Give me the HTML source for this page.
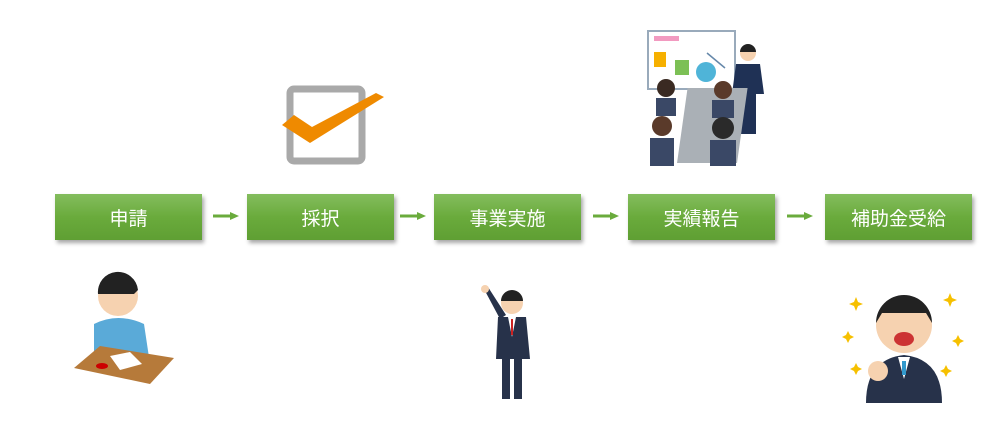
<!DOCTYPE html>
<html><head><meta charset="utf-8"><style>
body{margin:0;width:1000px;height:441px;background:#fff;position:relative;overflow:hidden;font-family:"Liberation Sans","Noto Sans CJK JP",sans-serif}
.b{position:absolute;top:194px;height:46px;background:linear-gradient(#84bd5e,#6aab3c 50%,#5f9f33);color:#fff;font-size:19px;display:flex;align-items:center;justify-content:center;box-shadow:2px 3px 4px rgba(0,0,0,.35)}
.a{position:absolute;top:212px;height:8px;width:26px}
svg{position:absolute}
</style></head><body>
<div class="b" style="left:55px;width:147px">申請</div>
<div class="b" style="left:247px;width:147px">採択</div>
<div class="b" style="left:434px;width:147px">事業実施</div>
<div class="b" style="left:628px;width:147px">実績報告</div>
<div class="b" style="left:825px;width:147px">補助金受給</div>
<svg class="a" style="left:213px" viewBox="0 0 26 8"><path d="M0 4H18" stroke="#6aab3c" stroke-width="3"/><path d="M17 0L26 4L17 8Z" fill="#6aab3c"/></svg>
<svg class="a" style="left:400px" viewBox="0 0 26 8"><path d="M0 4H18" stroke="#6aab3c" stroke-width="3"/><path d="M17 0L26 4L17 8Z" fill="#6aab3c"/></svg>
<svg class="a" style="left:593px" viewBox="0 0 26 8"><path d="M0 4H18" stroke="#6aab3c" stroke-width="3"/><path d="M17 0L26 4L17 8Z" fill="#6aab3c"/></svg>
<svg class="a" style="left:787px" viewBox="0 0 26 8"><path d="M0 4H18" stroke="#6aab3c" stroke-width="3"/><path d="M17 0L26 4L17 8Z" fill="#6aab3c"/></svg>

<!-- checkbox -->
<svg style="left:280px;top:85px" width="110" height="80">
<rect x="10" y="4" width="72" height="72" rx="4" fill="#fff" stroke="#a9a9a9" stroke-width="7"/>
<path d="M2 40L30 58L104 12L96 8L32 42L14 30Z" fill="#ef8a00"/>
</svg>

<!-- presentation -->
<svg style="left:640px;top:28px" width="135" height="140">
<rect x="8" y="3" width="87" height="58" fill="#fff" stroke="#9ab" stroke-width="2"/>
<rect x="14" y="8" width="25" height="5" fill="#f29ac0"/>
<rect x="14" y="24" width="12" height="15" fill="#f6b000"/>
<rect x="35" y="32" width="14" height="15" fill="#7cc055"/>
<circle cx="66" cy="44" r="10" fill="#4fb4d8"/>
<line x1="67" y1="25" x2="85" y2="40" stroke="#68a" stroke-width="1.5"/>
<circle cx="108" cy="25" r="8" fill="#f6d2b0"/><path d="M100 24a8 8 0 0 1 16 0z" fill="#222"/>
<path d="M96 36h24l4 30h-8v40h-16v-40h-8z" fill="#1f3155"/>
<rect x="56" y="60" width="60" height="75" fill="#aab0b6" transform="skewX(-8)"/>
<circle cx="26" cy="60" r="9" fill="#3a2a22"/><path d="M16 70h20v18H16z" fill="#3a4866"/>
<circle cx="83" cy="62" r="9" fill="#5a3a2a"/><path d="M72 72h22v18H72z" fill="#3a4866"/>
<circle cx="22" cy="98" r="10" fill="#5a3a2a"/><path d="M10 110h24v28H10z" fill="#3a4866"/>
<circle cx="83" cy="100" r="11" fill="#2a2a2a"/><path d="M70 112h26v26H70z" fill="#3a4866"/>
</svg>

<!-- applicant -->
<svg style="left:70px;top:268px" width="110" height="122">
<circle cx="48" cy="28" r="20" fill="#f6d2b0"/><path d="M28 26a20 20 0 0 1 40-4l-4 4h-34z" fill="#222"/>
<path d="M24 56q24-12 50 0l6 40H24z" fill="#5aaad8"/>
<path d="M4 100L30 78L104 90L80 116Z" fill="#b67a3a"/>
<path d="M40 88L60 84L72 96L50 102Z" fill="#fff"/>
<ellipse cx="32" cy="98" rx="6" ry="3" fill="#c00"/>
</svg>

<!-- pointing man -->
<svg style="left:478px;top:283px" width="62" height="118">
<circle cx="34" cy="20" r="11" fill="#f6d2b0"/><path d="M23 18a11 11 0 0 1 22 0z" fill="#222"/>
<path d="M20 34h28l4 42h-8v40h-8v-40h-4v40h-8v-40h-6z" fill="#27324a"/>
<path d="M30 34h8l-4 20z" fill="#fff"/><path d="M33 36h2v16h-2z" fill="#c22"/>
<path d="M22 36L6 6l4-2l18 28z" fill="#27324a"/><circle cx="7" cy="6" r="4" fill="#f6d2b0"/>
</svg>

<!-- happy man -->
<svg style="left:842px;top:283px" width="125" height="120">
<circle cx="62" cy="42" r="28" fill="#f6d2b0"/><path d="M34 40a28 28 0 0 1 56 0l-6-10h-44z" fill="#222"/>
<ellipse cx="62" cy="56" rx="10" ry="7" fill="#c33"/>
<path d="M24 120q0-44 38-48q38 4 38 48z" fill="#27324a"/>
<path d="M56 74h12l-6 22z" fill="#fff"/><path d="M60 78h4v14h-4z" fill="#39c"/>
<circle cx="36" cy="88" r="10" fill="#f6d2b0"/>
<g fill="#f6c000"><path d="M14 14l2 5 5 2-5 2-2 5-2-5-5-2 5-2z"/><path d="M108 10l2 5 5 2-5 2-2 5-2-5-5-2 5-2z"/><path d="M6 48l2 4 4 2-4 2-2 4-2-4-4-2 4-2z"/><path d="M116 52l2 4 4 2-4 2-2 4-2-4-4-2 4-2z"/><path d="M14 80l2 4 4 2-4 2-2 4-2-4-4-2 4-2z"/><path d="M104 82l2 4 4 2-4 2-2 4-2-4-4-2 4-2z"/></g>
</svg>
</body></html>
